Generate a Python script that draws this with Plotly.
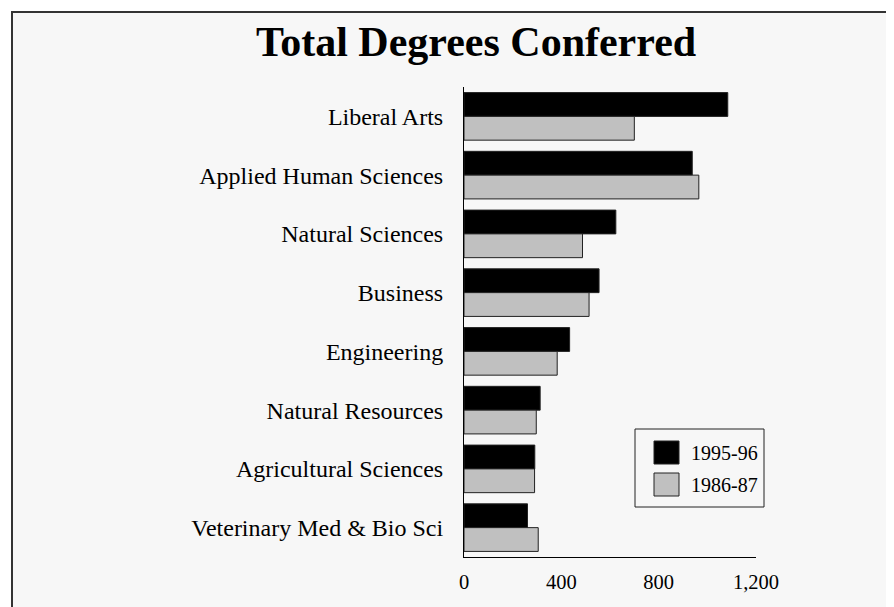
import plotly.graph_objects as go

categories = ["Liberal Arts", "Applied Human Sciences", "Natural Sciences", "Business",
              "Engineering", "Natural Resources", "Agricultural Sciences",
              "Veterinary Med & Bio Sci"]
series_names = ["1995-96", "1986-87"]
values_1995_96 = [1084, 938, 624, 555, 434, 313, 291, 261]
values_1986_87 = [700, 965, 487, 514, 383, 297, 290, 305]
tick_values = [0, 400, 800, 1200]
tick_labels = ["0", "400", "800", "1,200"]
colors = ["#000000", "#c0c0c0"]

OFF = 8  # page body margin
W, H = 894 - OFF, 607 - OFF
# plot area in screen pixels
SL, SR, ST, SB = 464, 756, 87, 557
L, R, T, B = SL - OFF, SR - OFF, ST - OFF, SB - OFF


def px_x(p):
    return (p - SL) / (SR - SL)


def px_y(p):
    return (SB - p) / (SB - ST)


FONT = "Liberation Serif, Times New Roman, serif"

fig = go.Figure()
for name, vals, col in zip(series_names, [values_1995_96, values_1986_87], colors):
    fig.add_trace(go.Bar(
        y=categories, x=vals, name=name, orientation="h",
        marker=dict(color=col, line=dict(color="#222222", width=1)),
        showlegend=False, hoverinfo="x+y",
    ))

fig.update_layout(
    width=W, height=H,
    margin=dict(l=L, r=W - R, t=T, b=H - B, pad=0),
    paper_bgcolor="white", plot_bgcolor="rgba(0,0,0,0)",
    barmode="group", bargap=0.19, bargroupgap=0,
    font=dict(family=FONT, color="black"),
    xaxis=dict(range=[0, 1200], tickvals=tick_values, ticktext=tick_labels,
               showgrid=False, zeroline=False, showline=True, linecolor="black",
               linewidth=1, ticks="", tickfont=dict(size=20.5, family=FONT),
               ticklabelstandoff=6, fixedrange=True),
    yaxis=dict(autorange="reversed", showgrid=False, zeroline=False,
               showline=True, linecolor="black", linewidth=1, ticks="",
               tickfont=dict(size=24, family=FONT), ticklabelstandoff=15,
               fixedrange=True),
)

shapes = []
# outer frame
shapes.append(dict(type="rect", xref="paper", yref="paper", layer="below",
                   x0=px_x(12), x1=px_x(893), y0=px_y(640), y1=px_y(12),
                   fillcolor="#f7f7f7", line=dict(color="#333333", width=2)))
# legend box
shapes.append(dict(type="rect", xref="paper", yref="paper",
                   x0=px_x(635), x1=px_x(764), y0=px_y(507), y1=px_y(429),
                   fillcolor="#f7f7f7", line=dict(color="#222222", width=1)))
annotations = []
leg_rows = [(441, 464), (473, 496)]
for (y0, y1), name, col in zip(leg_rows, series_names, colors):
    shapes.append(dict(type="rect", xref="paper", yref="paper",
                       x0=px_x(654), x1=px_x(679), y0=px_y(y1), y1=px_y(y0),
                       fillcolor=col, line=dict(color="#222222", width=1)))
    annotations.append(dict(text=name, xref="paper", yref="paper",
                            x=px_x(689), y=px_y((y0 + y1) / 2), xanchor="left",
                            yanchor="middle", showarrow=False,
                            font=dict(size=20, family=FONT, color="black")))

annotations.append(dict(text="<b>Total Degrees Conferred</b>", xref="paper", yref="paper",
                        x=px_x(476), y=px_y(42), xanchor="center", yanchor="middle",
                        showarrow=False,
                        font=dict(size=42, family=FONT, color="black")))

fig.update_layout(shapes=shapes, annotations=annotations)
fig.write_html("out.html")
